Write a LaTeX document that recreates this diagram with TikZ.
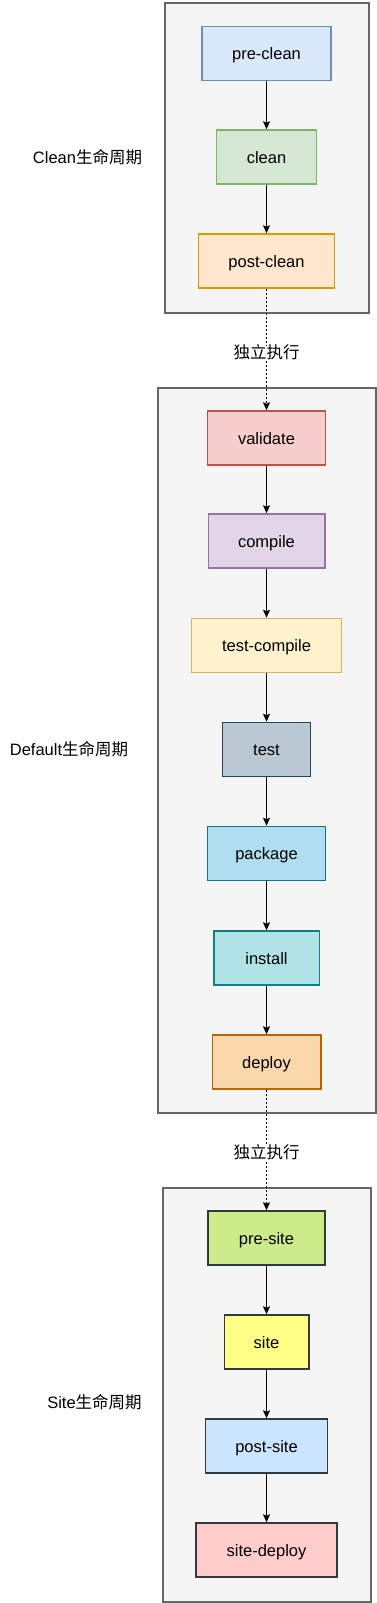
\documentclass[tikz,border=0pt]{standalone}
\usepackage{fontspec}
\setmainfont{Liberation Sans}
\newfontfamily\cjk{Noto Sans CJK SC}
\usetikzlibrary{arrows.meta}
\definecolor{cbg}{HTML}{F5F5F5}
\definecolor{cbd}{HTML}{666666}
\definecolor{f1}{HTML}{DAE8FC}\definecolor{s1}{HTML}{6C8EBF}
\definecolor{f2}{HTML}{D5E8D4}\definecolor{s2}{HTML}{82B366}
\definecolor{f3}{HTML}{FFE6CC}\definecolor{s3}{HTML}{D79B00}
\definecolor{f4}{HTML}{F8CECC}\definecolor{s4}{HTML}{B85450}
\definecolor{f5}{HTML}{E1D5E7}\definecolor{s5}{HTML}{9673A6}
\definecolor{f6}{HTML}{FFF2CC}\definecolor{s6}{HTML}{D6B656}
\definecolor{f7}{HTML}{BAC8D3}\definecolor{s7}{HTML}{23445D}
\definecolor{f8}{HTML}{B1DDF0}\definecolor{s8}{HTML}{10739E}
\definecolor{f9}{HTML}{B0E3E6}\definecolor{s9}{HTML}{0E8088}
\definecolor{f10}{HTML}{FAD7AC}\definecolor{s10}{HTML}{B46504}
\definecolor{f11}{HTML}{CDEB8B}\definecolor{s11}{HTML}{36393D}
\definecolor{f12}{HTML}{FFFF88}
\definecolor{f13}{HTML}{CCE5FF}
\definecolor{f14}{HTML}{FFCCCC}
\tikzset{
  stepbox/.style={draw, line width=1.5pt, minimum height=54pt, inner sep=0pt, text height=12pt, text depth=0pt, font=\fontsize{16.5}{18}\selectfont},
  container/.style={draw=cbd, fill=cbg, line width=2pt},
  lbl/.style={font=\fontsize{16.5}{18}\selectfont, inner sep=1pt, text height=12pt, text depth=0pt},
  flow/.style={draw=black, line width=1.3pt, -{Stealth[length=8pt,width=7pt,inset=1.5pt]}},
  indep/.style={flow, dash pattern=on 2pt off 2pt},
}
\begin{document}
\begin{tikzpicture}[x=1pt,y=-1pt]
\useasboundingbox (0,0) rectangle (377,1603);
% containers
\draw[container] (165,3) rectangle (368.5,312.5);
\draw[container] (157.5,387.5) rectangle (375.5,1112.5);
\draw[container] (162.5,1187.5) rectangle (371,1601.5);
% lifecycle labels
\node[lbl] (lc) at (87.5,157) {Clean{\cjk 生命周期}};
\node[lbl] (ld) at (69,749) {Default{\cjk 生命周期}};
\node[lbl] (ls) at (94.5,1402) {Site{\cjk 生命周期}};
% clean
\node[stepbox, fill=f1, draw=s1, minimum width=129pt] (preclean) at (266.5,53.5) {pre-clean};
\node[stepbox, fill=f2, draw=s2, minimum width=100pt] (clean) at (266.5,157) {clean};
\node[stepbox, fill=f3, draw=s3, minimum width=136pt] (postclean) at (266.5,261) {post-clean};
% default
\node[stepbox, fill=f4, draw=s4, minimum width=118pt] (validate) at (266.5,438) {validate};
\node[stepbox, fill=f5, draw=s5, minimum width=116.5pt] (compile) at (266.5,541) {compile};
\node[stepbox, fill=f6, draw=s6, minimum width=150pt] (testcompile) at (266.5,645.5) {test-compile};
\node[stepbox, fill=f7, draw=s7, minimum width=88pt] (test) at (266.5,749.5) {test};
\node[stepbox, fill=f8, draw=s8, minimum width=118pt] (package) at (266.5,853.5) {package};
\node[stepbox, fill=f9, draw=s9, minimum width=105.5pt] (install) at (266.5,958) {install};
\node[stepbox, fill=f10, draw=s10, minimum width=108.5pt] (deploy) at (266.5,1062) {deploy};
% site
\node[stepbox, fill=f11, draw=s11, minimum width=117pt] (presite) at (266.5,1238) {pre-site};
\node[stepbox, fill=f12, draw=s11, minimum width=84.5pt] (site) at (266.5,1342) {site};
\node[stepbox, fill=f13, draw=s11, minimum width=122pt] (postsite) at (266.5,1446) {post-site};
\node[stepbox, fill=f14, draw=s11, minimum width=140.7pt] (sitedeploy) at (266.5,1550) {site-deploy};
% arrows
\draw[flow] (preclean) -- (clean);
\draw[flow] (clean) -- (postclean);
\draw[flow] (validate) -- (compile);
\draw[flow] (compile) -- (testcompile);
\draw[flow] (testcompile) -- (test);
\draw[flow] (test) -- (package);
\draw[flow] (package) -- (install);
\draw[flow] (install) -- (deploy);
\draw[flow] (presite) -- (site);
\draw[flow] (site) -- (postsite);
\draw[flow] (postsite) -- (sitedeploy);
\draw[indep] (postclean) -- (validate);
\draw[indep] (deploy) -- (presite);
\node[lbl, fill=white] (ind1) at (266.5,352.7) {\cjk 独立执行};
\node[lbl, fill=white] (ind2) at (266.5,1152.7) {\cjk 独立执行};
\end{tikzpicture}
\end{document}
